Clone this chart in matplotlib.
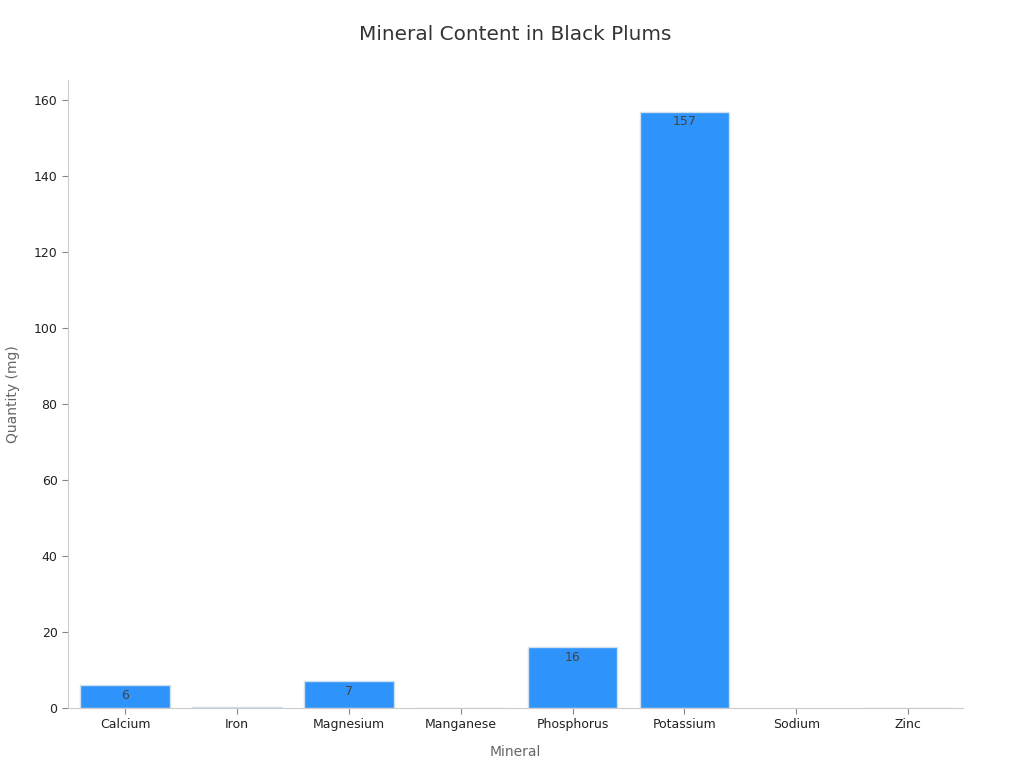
import matplotlib
matplotlib.use('Agg')
import matplotlib.pyplot as plt

minerals = ['Calcium', 'Iron', 'Magnesium', 'Manganese', 'Phosphorus', 'Potassium', 'Sodium', 'Zinc']
quantity = [6, 0.17, 7, 0.05, 16, 157, 0, 0.1]

fig = plt.figure(figsize=(10.24, 7.68), dpi=100)
ax = fig.add_axes([0.0664, 0.0781, 0.874, 0.8177])

edges = ['#cfe0ee' if v > 0 else 'none' for v in quantity]
bars = ax.bar(minerals, quantity, width=0.8, color='#2E93FA', edgecolor=edges, linewidth=1)
for b, v in zip(bars, quantity):
    if v >= 1:
        ax.text(b.get_x() + b.get_width() / 2, v - 0.9, '%d' % v, ha='center', va='top',
                fontsize=9, color='#444444')

ax.set_xlim(-0.51, 7.49)
ax.set_ylim(0, 165.3)
ax.set_yticks(range(0, 161, 20))
ax.set_title('Mineral Content in Black Plums', fontsize=14.4, color='#333333', pad=29)
ax.set_xlabel('Mineral', fontsize=10, color='#666666', labelpad=10)
ax.set_ylabel('Quantity (mg)', fontsize=10, color='#666666', labelpad=10)
for s in ['top', 'right']:
    ax.spines[s].set_visible(False)
for s in ['left', 'bottom']:
    ax.spines[s].set_color('#cccccc')
ax.tick_params(axis='both', colors='#888888', labelcolor='#222222', labelsize=9, length=4)

fig.savefig('out.png', dpi=100)
